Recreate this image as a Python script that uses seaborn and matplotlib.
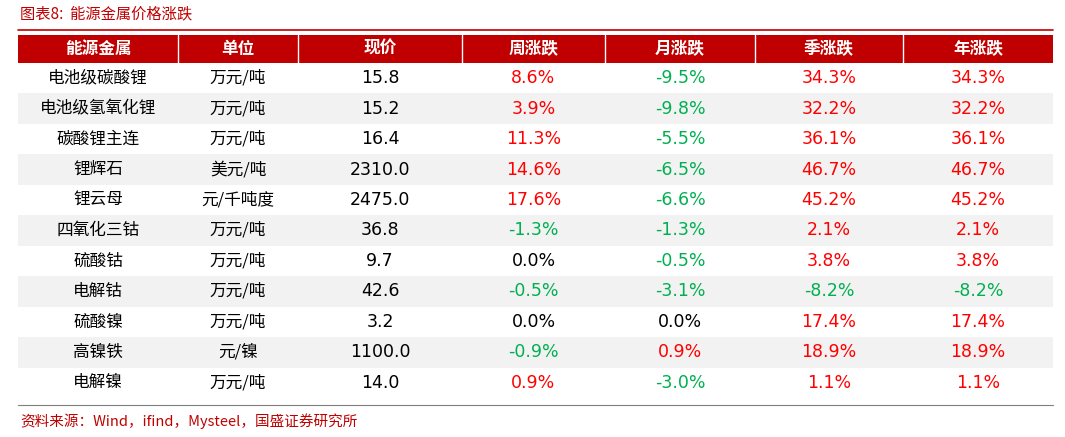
import numpy as np
import matplotlib.pyplot as plt
import seaborn as sns

sns.set_theme(style="white")
plt.rcParams['font.family'] = ['DejaVu Sans', 'Noto Sans CJK SC']

title = "图表8:  能源金属价格涨跌"
source = "资料来源：Wind，ifind，Mysteel，国盛证券研究所"
headers = ["能源金属", "单位", "现价", "周涨跌", "月涨跌", "季涨跌", "年涨跌"]
metals = ["电池级碳酸锂", "电池级氢氧化锂", "碳酸锂主连", "锂辉石", "锂云母", "四氧化三钴",
          "硫酸钴", "电解钴", "硫酸镍", "高镍铁", "电解镍"]
units = ["万元/吨", "万元/吨", "万元/吨", "美元/吨", "元/千吨度", "万元/吨",
         "万元/吨", "万元/吨", "万元/吨", "元/镍", "万元/吨"]
price = [15.8, 15.2, 16.4, 2310.0, 2475.0, 36.8, 9.7, 42.6, 3.2, 1100.0, 14.0]
week = [8.6, 3.9, 11.3, 14.6, 17.6, -1.3, 0.0, -0.5, 0.0, -0.9, 0.9]
month = [-9.5, -9.8, -5.5, -6.5, -6.6, -1.3, -0.5, -3.1, 0.0, 0.9, -3.0]
quarter = [34.3, 32.2, 36.1, 46.7, 45.2, 2.1, 3.8, -8.2, 17.4, 18.9, 1.1]
year = [34.3, 32.2, 36.1, 46.7, 45.2, 2.1, 3.8, -8.2, 17.4, 18.9, 1.1]

W, H = 1065, 437
fig = plt.figure(figsize=(W / 100, H / 100), dpi=100)
RED = "#C00000"

def fx(px):
    return px / W

def fy(py):
    return 1 - py / H

left, right = 18, 1053
bounds = [18, 178, 298, 462, 605, 755, 903, 1053]
centers = [(a + b) / 2 for a, b in zip(bounds[:-1], bounds[1:])]
head_top, head_bot, body_bot = 35, 63, 398

# 제목과 밑줄
fig.text(fx(20), fy(14), title, fontsize=11, color=RED, va='center',
         family=['Noto Sans CJK SC'])
fig.add_artist(plt.Line2D([fx(left), fx(right)], [fy(30), fy(30)], color=RED, lw=1.2))

# 헤더
hax = fig.add_axes([fx(left), fy(head_bot), fx(right - left), (head_bot - head_top) / H])
hax.set_facecolor(RED)
hax.set_xlim(left, right)
hax.set_ylim(0, 1)
hax.set_xticks([]); hax.set_yticks([])
for s in hax.spines.values():
    s.set_visible(False)
for b in bounds[1:-1]:
    hax.axvline(b, color="white", lw=1)
for c, h in zip(centers, headers):
    hax.text(c, 0.5, h, ha='center', va='center', color='white', fontsize=12,
             fontweight='bold', family=['Noto Sans CJK SC'])

# 본문: 줄무늬 배경
n = len(metals)
stripes = np.array([[i % 2] for i in range(n)])
bax = fig.add_axes([fx(left), fy(body_bot), fx(right - left), (body_bot - head_bot) / H])
sns.heatmap(stripes, ax=bax, cmap=["white", "#F2F2F2"], cbar=False,
            xticklabels=False, yticklabels=False, linewidths=0)

def col_color(v):
    if v > 0:
        return "#FF0000"
    if v < 0:
        return "#00B050"
    return "black"

for i in range(n):
    y = 1 - (i + 0.5) / n
    row = [(metals[i], 'black'), (units[i], 'black'), (f"{price[i]:.1f}", 'black'),
           (f"{week[i]:.1f}%", col_color(week[i])), (f"{month[i]:.1f}%", col_color(month[i])),
           (f"{quarter[i]:.1f}%", col_color(quarter[i])), (f"{year[i]:.1f}%", col_color(year[i]))]
    for j, (t, c) in enumerate(row):
        xf = (centers[j] - left) / (right - left)
        fs = 12 if j < 2 else 12.5
        fam = ['Noto Sans CJK SC'] if j < 2 else ['DejaVu Sans', 'Noto Sans CJK SC']
        bax.text(xf, y, t, transform=bax.transAxes, ha='center', va='center',
                 color=c, fontsize=fs, family=fam)

fig.add_artist(plt.Line2D([fx(left), fx(right)], [fy(405), fy(405)], color="#7F7F7F", lw=0.8))
fig.text(fx(20), fy(421), source, fontsize=10.5, color=RED, va='center',
         family=['Noto Sans CJK SC'])

fig.savefig("out.png", dpi=100)
